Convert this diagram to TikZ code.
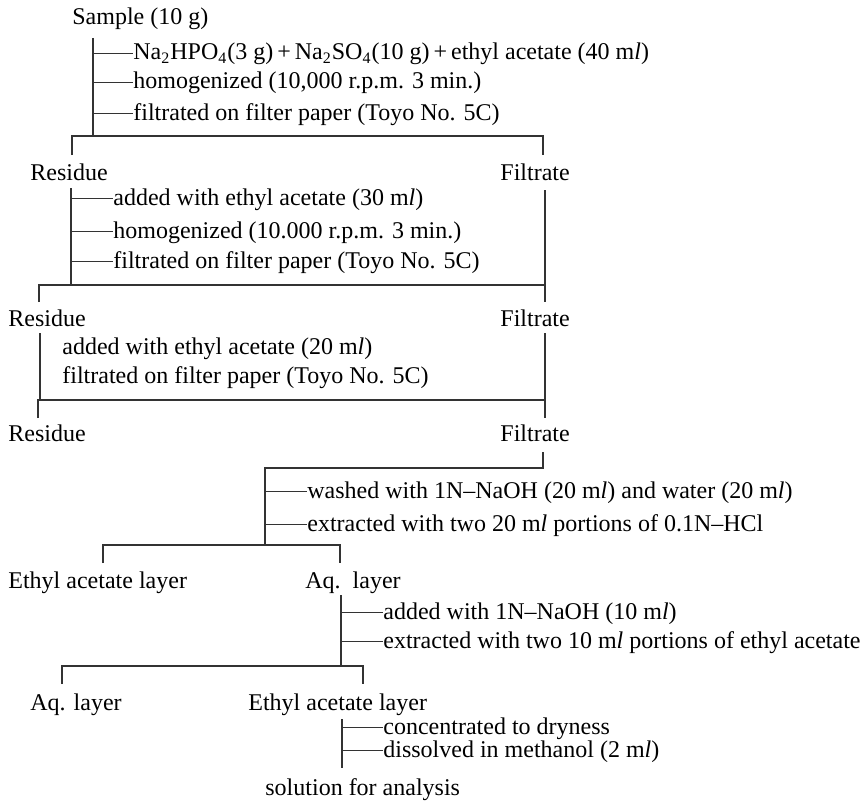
\documentclass[tikz,border=0pt]{standalone}
\usepackage{fontspec}
\setmainfont{Liberation Serif}
\tikzset{
  lbl/.style={anchor=base west, inner sep=0pt, text height=0.68em, text depth=0pt,
    font=\fontsize{12}{14}\selectfont},
  ln/.style={line width=0.55pt, black!80},
}
\newcommand{\ml}{m\textit{l}}
\begin{document}
\begin{tikzpicture}[x=0.5pt,y=-0.5pt]
  \useasboundingbox (0,0) rectangle (867,808);

  % Sample
  \node[lbl] (sample) at (72,25) {Sample (10 g)};
  \coordinate (a1) at (93,38);
  \coordinate (a2) at (93,136);
  \draw[ln] (a1) -- (a2);
  \node[lbl] (s11) at (133,60) {Na\textsubscript{2}HPO\textsubscript{4}(3 g)\,+\,Na\textsubscript{2}SO\textsubscript{4}(10 g)\,+\,ethyl acetate (40 \ml)};
  \node[lbl] (s12) at (133,89) {homogenized (10,000 r.p.m. 3 min.)};
  \node[lbl] (s13) at (133,120) {filtrated on filter paper (Toyo No. 5C)};
  \foreach \s in {s11,s12,s13} \draw[ln] (\s.west -| a1) -- (\s.west);

  % First split
  \coordinate (b1l) at (72,155);
  \coordinate (b1r) at (543,155);
  \draw[ln] (b1l) -- (b1l |- a2) -- (b1r |- a2) -- (b1r);
  \node[lbl] (res1) at (30,180) {Residue};
  \node[lbl] (fil1) at (500,180) {Filtrate};

  % Residue, second extraction
  \coordinate (c1) at (71,188);
  \coordinate (c2) at (71,285);
  \draw[ln] (c1) -- (c2);
  \node[lbl] (s21) at (113,205) {added with ethyl acetate (30 \ml)};
  \node[lbl] (s22) at (113,238) {homogenized (10.000 r.p.m. 3 min.)};
  \node[lbl] (s23) at (113,268) {filtrated on filter paper (Toyo No. 5C)};
  \foreach \s in {s21,s22,s23} \draw[ln] (\s.west -| c1) -- (\s.west);
  \coordinate (f1) at (545,190);
  \draw[ln] (f1) -- (f1 |- c2);

  % Second split
  \coordinate (b2l) at (39,302);
  \coordinate (b2r) at (545,302);
  \draw[ln] (b2l) -- (b2l |- c2) -- (b2r |- c2) -- (b2r);
  \node[lbl] (res2) at (8,326) {Residue};
  \node[lbl] (fil2) at (500,326) {Filtrate};

  % Residue, third extraction
  \coordinate (d1) at (40,333);
  \coordinate (d2) at (40,400);
  \draw[ln] (d1) -- (d2);
  \node[lbl] (s31) at (62,354) {added with ethyl acetate (20 \ml)};
  \node[lbl] (s32) at (62,383) {filtrated on filter paper (Toyo No. 5C)};
  \coordinate (f2) at (545,333);
  \draw[ln] (f2) -- (f2 |- d2);

  % Third split
  \coordinate (b3l) at (38,418);
  \coordinate (b3r) at (545,418);
  \draw[ln] (b3l) -- (b3l |- d2) -- (b3r |- d2) -- (b3r);
  \node[lbl] (res3) at (8,441) {Residue};
  \node[lbl] (fil3) at (500,441) {Filtrate};

  % Combined filtrates
  \coordinate (f3) at (543,452);
  \coordinate (e1) at (265,468);
  \coordinate (e2) at (265,545);
  \draw[ln] (f3) -- (f3 |- e1) -- (e1) -- (e2);
  \node[lbl] (s41) at (307,498) {washed with 1N--NaOH (20 \ml) and water (20 \ml)};
  \node[lbl] (s42) at (307,531) {extracted with two 20 \ml\ portions of 0.1N--HCl};
  \foreach \s in {s41,s42} \draw[ln] (\s.west -| e1) -- (\s.west);

  % Layers
  \coordinate (b4l) at (103,563);
  \coordinate (b4r) at (340,563);
  \draw[ln] (b4l) -- (b4l |- e2) -- (b4r |- e2) -- (b4r);
  \node[lbl] (eal1) at (8,588) {Ethyl acetate layer};
  \node[lbl] (aq1) at (305,588) {Aq.\ \ layer};

  % Aqueous layer
  \coordinate (g1) at (341,595);
  \coordinate (g2) at (341,666);
  \draw[ln] (g1) -- (g2);
  \node[lbl] (s51) at (383,619) {added with 1N--NaOH (10 \ml)};
  \node[lbl] (s52) at (383,648) {extracted with two 10 \ml\ portions of ethyl acetate};
  \foreach \s in {s51,s52} \draw[ln] (\s.west -| g1) -- (\s.west);

  \coordinate (b5l) at (62,684);
  \coordinate (b5r) at (363,684);
  \draw[ln] (b5l) -- (b5l |- g2) -- (b5r |- g2) -- (b5r);
  \node[lbl] (aq2) at (30,710) {Aq. layer};
  \node[lbl] (eal2) at (248,710) {Ethyl acetate layer};

  % Final
  \coordinate (h1) at (342,719);
  \coordinate (h2) at (342,768);
  \draw[ln] (h1) -- (h2);
  \node[lbl] (s61) at (383,734) {concentrated to dryness};
  \node[lbl] (s62) at (383,757) {dissolved in methanol (2 \ml)};
  \foreach \s in {s61,s62} \draw[ln] (\s.west -| h1) -- (\s.west);
  \node[lbl] (sol) at (265,795) {solution for analysis};
\end{tikzpicture}
\end{document}
